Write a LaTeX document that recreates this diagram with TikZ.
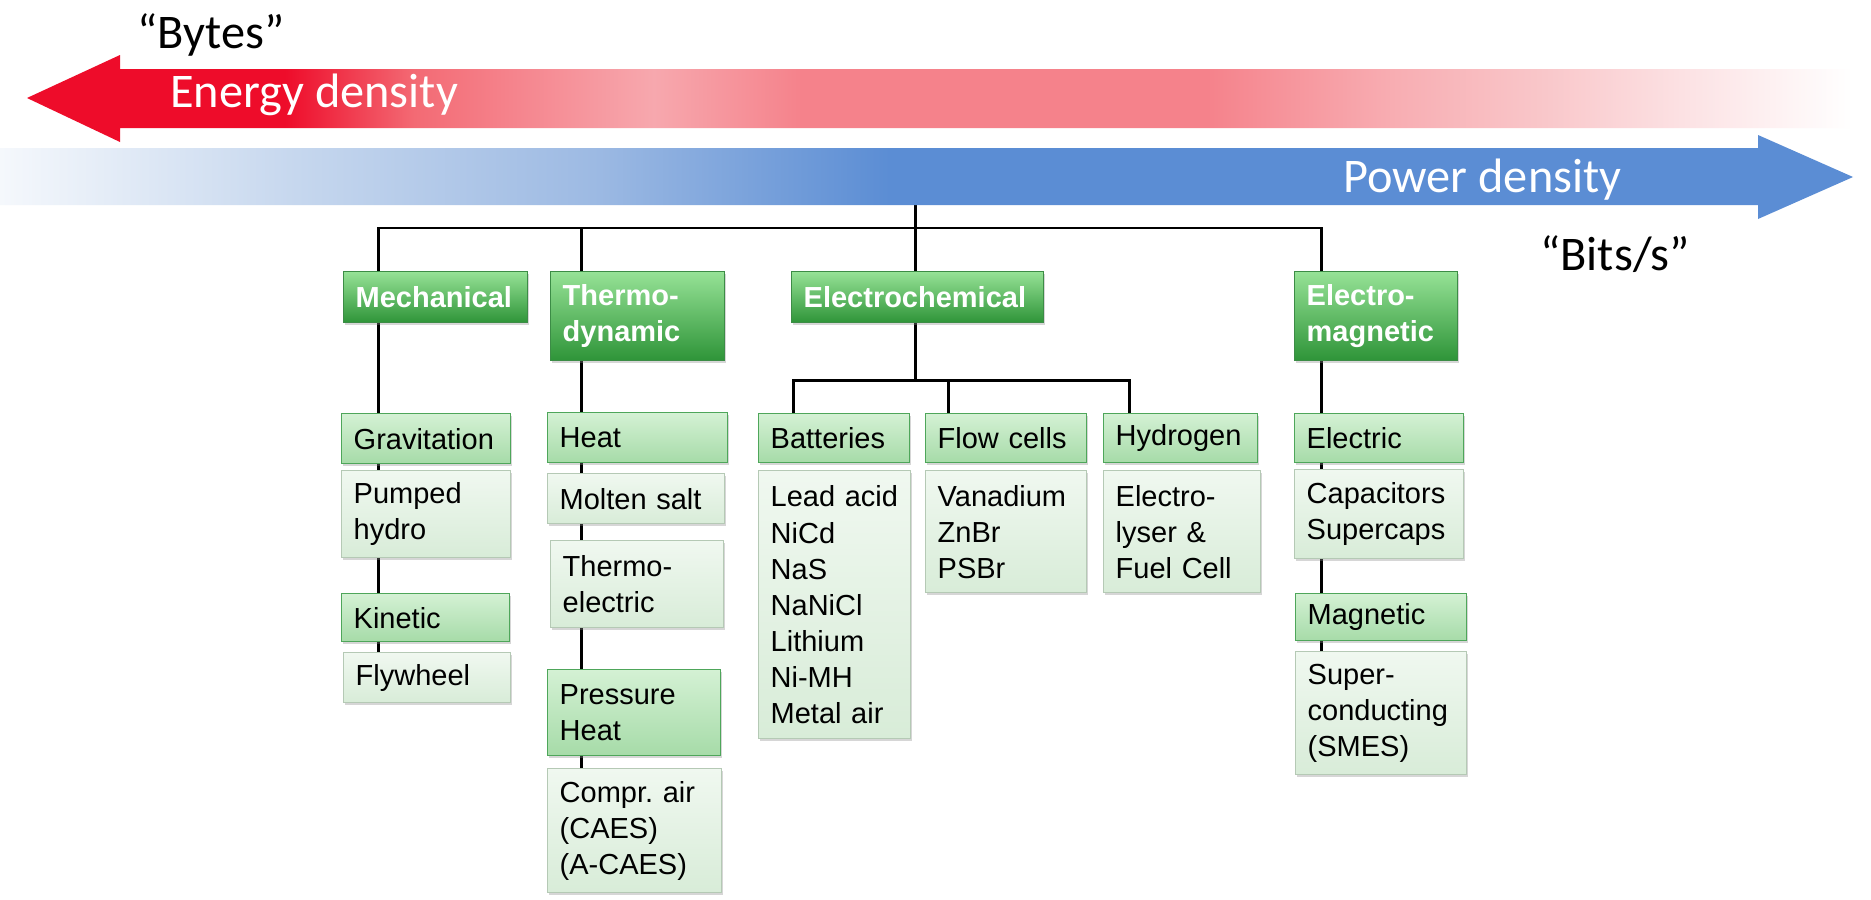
\documentclass[tikz,border=0pt]{standalone}
\usepackage{fontspec}
\setmainfont{Liberation Sans}
\newfontfamily\slidefont{Carlito}
\usetikzlibrary{shadows,backgrounds}

% box colours
\definecolor{hdrtop}{RGB}{150,226,150}
\definecolor{hdrbot}{RGB}{46,148,56}
\definecolor{hdrline}{RGB}{60,140,70}
\definecolor{cattop}{RGB}{212,241,212}
\definecolor{catbot}{RGB}{166,219,168}
\definecolor{catline}{RGB}{78,166,90}
\definecolor{techtop}{RGB}{240,248,240}
\definecolor{techbot}{RGB}{216,236,216}
\definecolor{techline}{RGB}{181,201,181}

% arrow colours
\definecolor{enred}{RGB}{238,12,42}
\definecolor{enpinkA}{RGB}{243,106,116}
\definecolor{enpink}{RGB}{245,130,139}
\definecolor{enlight}{RGB}{247,168,174}
\definecolor{enpale}{RGB}{248,173,178}
\definecolor{enfaint}{RGB}{249,198,201}
\definecolor{enwhisper}{RGB}{252,226,228}
\definecolor{pwA}{RGB}{245,248,252}
\definecolor{pwB}{RGB}{198,215,238}
\definecolor{pwC}{RGB}{157,186,227}
\definecolor{pwblue}{RGB}{91,141,212}

\pgfdeclarehorizontalshading{energyfade}{100bp}{color(0bp)=(enred); color(27.5bp)=(enred);
  color(32bp)=(enred); color(35.5bp)=(enpinkA); color(38bp)=(enpink); color(42bp)=(enlight);
  color(46bp)=(enpink); color(57bp)=(enpink); color(62bp)=(enpale); color(66bp)=(enfaint);
  color(70bp)=(enwhisper); color(74.5bp)=(white); color(100bp)=(white)}
\pgfdeclarehorizontalshading{powerfade}{100bp}{color(0bp)=(pwA); color(25bp)=(pwA);
  color(33bp)=(pwB); color(41bp)=(pwC); color(49bp)=(pwblue); color(100bp)=(pwblue)}

\begin{document}
\begin{tikzpicture}[ x = 0.02cm, y = -0.02cm,
                     hdr/.style={draw=hdrline,line width=0.8pt,top color=hdrtop,bottom color=hdrbot,
                                 text=white,font=\bfseries\fontsize{16.5}{20.5}\selectfont,
                                 align=left,inner xsep=0.24cm,inner ysep=0pt,anchor=north west,
                                 drop shadow={shadow xshift=0.8pt,shadow yshift=-1.2pt,fill=black!45,opacity=0.35}},
                     cat/.style={hdr,draw=catline,top color=cattop,bottom color=catbot,
                                 text=black,font=\fontsize{16.5}{20.5}\selectfont},
                     tech/.style={cat,draw=techline,top color=techtop,bottom color=techbot},
                     link/.style={draw=black,line width=1.7pt},
                     slide/.style={font=\slidefont\fontsize{27.5}{33}\selectfont,inner sep=0pt,anchor=base west},
                   ]
 % the two arrows
 \shade[shading=energyfade] (27,98) -- (120,55) -- (120,69) -- (1871,69) -- (1871,128)
       -- (120,128) -- (120,142) -- cycle;
 \shade[shading=powerfade] (0,148) -- (1758,148) -- (1758,135) -- (1853,177) -- (1758,219)
       -- (1758,205) -- (0,205) -- cycle;

 \node[slide] (bytes)  at (137,48)  {“Bytes”};
 \node[slide,text=white] (energy) at (170,107) {Energy density};
 \node[slide,text=white] (power)  at (1343,192) {Power density};
 \node[slide] (bits)   at (1540,270) {“Bits/s”};

 % top level
 \draw (343,271)  node[hdr,text width=3.20cm,minimum height=1.02cm] (mech)  {Mechanical};
 \draw (550,271)  node[hdr,text width=3.00cm,minimum height=1.78cm] (thermo) {Thermo-\\dynamic};
 \draw (791,271)  node[hdr,text width=4.56cm,minimum height=1.02cm] (echem) {Electrochemical};
 \draw (1294,271) node[hdr,text width=2.78cm,minimum height=1.78cm] (emag)  {Electro-\\magnetic};

 % mechanical
 \draw (341,413)  node[cat,text width=2.90cm,minimum height=1.00cm]  (grav) {Gravitation};
 \draw (341,470)  node[tech,text width=2.90cm,minimum height=1.74cm] (pump) {Pumped\\hydro};
 \draw (341,593)  node[cat,text width=2.88cm,minimum height=0.96cm]  (kin)  {Kinetic};
 \draw (343,652)  node[tech,text width=2.86cm,minimum height=1.00cm] (flyw) {Flywheel};

 % thermodynamic
 \draw (547,412)  node[cat,text width=3.12cm,minimum height=1.00cm]  (heat)  {Heat};
 \draw (547,473)  node[tech,text width=3.06cm,minimum height=1.00cm] (molt)  {Molten salt};
 \draw (550,540)  node[tech,text width=2.98cm,minimum height=1.74cm] (teg)   {Thermo-\\electric};
 \draw (547,669)  node[cat,text width=2.98cm,minimum height=1.72cm]  (press) {Pressure\\Heat};
 \draw (547,768)  node[tech,text width=3.00cm,minimum height=2.48cm] (caes)  {Compr.\ air\\(CAES)\\(A-CAES)};

 % electrochemical
 \draw (758,413)  node[cat,text width=2.54cm,minimum height=0.98cm]  (batt)  {Batteries};
 \draw (925,413)  node[cat,text width=2.74cm,minimum height=0.98cm]  (flow)  {Flow cells};
 \draw (1103,413) node[cat,text width=2.60cm,minimum height=0.98cm]  (hydro) {Hydrogen};
 \draw (758,470)  node[tech,text width=2.56cm,minimum height=5.36cm] (battl)
              {Lead acid\\NiCd\\NaS\\NaNiCl\\Lithium\\Ni-MH\\Metal air};
 \draw (925,470)  node[tech,text width=2.74cm,minimum height=2.44cm] (flowl) {Vanadium\\ZnBr\\PSBr};
 \draw (1103,470) node[tech,text width=2.66cm,minimum height=2.44cm] (hydl)  {Electro-\\lyser \&\\Fuel Cell};

 % electromagnetic
 \draw (1294,413) node[cat,text width=2.90cm,minimum height=0.98cm]  (elec) {Electric};
 \draw (1294,469) node[tech,text width=2.90cm,minimum height=1.78cm] (cap)  {Capacitors\\Supercaps};
 \draw (1295,593) node[cat,text width=2.94cm,minimum height=0.94cm]  (magn) {Magnetic};
 \draw (1295,651) node[tech,text width=2.94cm,minimum height=2.46cm] (smes) {Super-\\conducting\\(SMES)};

 % branch points
 \coordinate (top)  at (915,205);
 \coordinate (mx)   at (378,228);
 \coordinate (tx)   at (581,228);
 \coordinate (ex)   at (1321,228);
 \coordinate (chub) at (915,380);
 \coordinate (bx)   at (793,380);
 \coordinate (fx)   at (948,380);
 \coordinate (hx)   at (1129,380);

 \begin{scope}[on background layer]
  \fill[white] (0,0) rectangle (1871,899);
  \draw[link] (flyw.north -| mx) -- (mx) -- (ex) -- (smes.north -| ex);
  \draw[link] (tx) -- (caes.north -| tx);
  \draw[link] (top) -- (chub);
  \draw[link] (batt.north -| bx) -- (bx) -- (hx) -- (hydro.north -| hx);
  \draw[link] (fx) -- (flow.north -| fx);
 \end{scope}

\end{tikzpicture}
\end{document}
